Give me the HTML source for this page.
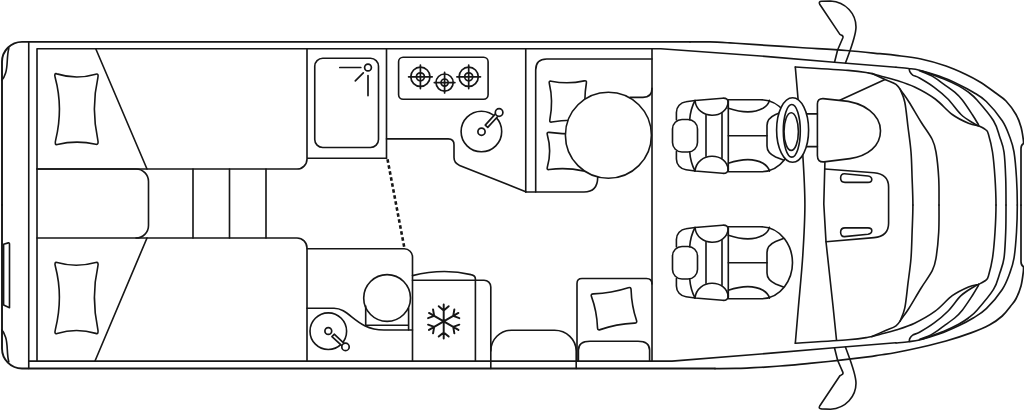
<!DOCTYPE html>
<html><head><meta charset="utf-8"><title>Floor plan</title>
<style>
html,body{margin:0;padding:0;background:#fff;}
body{width:1024px;height:410px;overflow:hidden;font-family:"Liberation Sans",sans-serif;}
svg{display:block;}
svg *{vector-effect:none;}
</style></head><body>
<svg width="1024" height="410" viewBox="0 0 1024 410" fill="none" stroke="#161616" stroke-width="1.62" stroke-linecap="round" stroke-linejoin="round">
<rect x="0" y="0" width="1024" height="410" fill="#fff" stroke="none"/>

<!-- body outline -->
<path d="M2,205 V62 A20,20 0 0 1 22,41.85 H690" stroke-width="1.9"/>
<path d="M2,205 V348.5 A20,20 0 0 0 22,368.55 H715" stroke-width="1.9"/>
<path d="M8.8,48.4 C6.6,56 8,66 5.6,73 Q4,78 1.8,80.3"/>
<path d="M8.8,361.8 C6.6,354.2 8,344.2 5.6,337.2 Q4,332.2 1.8,329.9"/>
<path d="M3.6,305 V244.2 L8.3,242.9 Q9.5,242.6 9.5,244 V307.8 L3.6,305"/>
<path d="M28.75,41.75 V368.5"/>
<path d="M37,361 V48.75 H660.75 L768,56.6 L834.25,62.25 L896,67.25"/>
<path d="M28.75,361.15 H672 L768,353.4 L834.25,347.75 L896,342.75"/>


<path d="M37,169 H297 A10,10 0 0 0 307,159"/>
<path d="M307,48.75 V158.25 H386.5"/>
<path d="M95.75,48.75 L147,169"/>
<path d="M37,238 H297 A10,10 0 0 1 307,248 V361"/>
<path d="M147,238 L95,361"/>
<path d="M37,169 H136 A12.5,12.5 0 0 1 148.5,181.5 V225.5 A12.5,12.5 0 0 1 136,238"/>
<path d="M193,169 V238 M229.5,169 V238 M266,169 V238"/>
<!-- pillows -->

<path d="M56.91,73.87 Q76.05,79.96 95.78,74.21 Q99.00,73.20 97.80,78.08 Q91.00,108.14 97.80,139.83 Q99.00,145.00 95.79,144.22 Q76.08,139.81 57.34,144.56 Q54.30,145.40 55.66,140.17 Q63.40,108.14 55.23,77.74 Q53.80,72.80 56.91,73.87 Z"/>
<path d="M57.08,262.56 Q76.07,268.04 95.78,262.56 Q99.00,261.60 97.80,266.57 Q91.00,297.13 97.80,329.17 Q99.00,334.40 95.78,333.39 Q76.07,327.63 57.08,333.56 Q54.00,334.60 55.41,329.35 Q63.39,297.14 55.41,266.57 Q54.00,261.60 57.08,262.56 Z"/>

<path d="M386.5,48.75 V158.25"/>
<rect x="314.75" y="58.25" width="63.75" height="89.25" rx="8" ry="8"/>
<circle cx="368" cy="67.5" r="3.4" stroke-width="1.7"/>
<path d="M339.8,67.5 H360.8 M355.3,80.8 L363.3,72.8 M368,75.6 V95.6" stroke-width="1.7"/>

<rect x="398.6" y="57.2" width="89.5" height="42.1" rx="4.5" ry="4.5"/>
<g stroke-width="1.7"><circle cx="420.4" cy="76.8" r="9.6"/><circle cx="420.4" cy="76.8" r="4"/><path d="M408.59999999999997,76.8 H432.2 M420.4,65.0 V88.6"/></g>
<g stroke-width="1.7"><circle cx="444.6" cy="82.6" r="8.6"/><circle cx="444.6" cy="82.6" r="3.6"/><path d="M434.3,82.6 H454.90000000000003 M444.6,72.3 V92.89999999999999"/></g>
<g stroke-width="1.7"><circle cx="468.7" cy="76.8" r="9.6"/><circle cx="468.7" cy="76.8" r="4"/><path d="M456.9,76.8 H480.5 M468.7,65.0 V88.6"/></g>

<circle cx="481.4" cy="131.5" r="20.3"/>
<circle cx="481.5" cy="131.7" r="3.6" stroke-width="1.7"/>
<path d="M497.95,116.25 L487.75,127.35 L485.25,125.05 L495.45,113.95" fill="#fff" stroke-width="1.7"/>
<circle cx="499.1" cy="112.5" r="3.8" fill="#fff" stroke-width="1.7"/>
<path d="M386.5,138.9 H448.2 Q454,138.9 454,144.8 V157.6 Q454,163.2 459.6,165.4 L525.75,191.7"/>
<path d="M525.75,48.75 V192"/>
<path d="M387.5,159.3 L404.4,248" stroke-width="2.6" stroke-dasharray="3.6 2.5" stroke-linecap="butt"/>


<path d="M307,248.8 H404.3 A8.2,8.2 0 0 1 412.5,257 V361"/>
<circle cx="387.1" cy="298" r="23.4"/>
<path d="M365.7,306 V325.2 H408.6 M408.6,308 V330"/>
<path d="M307,308.2 H334 C350,308.2 356,330 384,330 H412.5"/>
<circle cx="328.3" cy="331.2" r="18.3"/>
<circle cx="328.3" cy="331" r="3.4" stroke-width="1.7"/>
<path d="M344.05,343.31 L334.2,334.21 L331.96,336.63 L341.81,345.73" fill="#fff" stroke-width="1.7"/>
<circle cx="345.5" cy="346.9" r="3.7" fill="#fff" stroke-width="1.7"/>

<path d="M443.70,321.40 L443.70,304.40 M443.70,310.40 L448.68,306.22 M443.70,310.40 L438.72,306.22 M443.70,321.40 L428.98,312.90 M434.17,315.90 L433.05,309.50 M434.17,315.90 L428.07,318.12 M443.70,321.40 L428.98,329.90 M434.17,326.90 L428.07,324.68 M434.17,326.90 L433.05,333.30 M443.70,321.40 L443.70,338.40 M443.70,332.40 L438.72,336.58 M443.70,332.40 L448.68,336.58 M443.70,321.40 L458.42,329.90 M453.23,326.90 L454.35,333.30 M453.23,326.90 L459.33,324.68 M443.70,321.40 L458.42,312.90 M453.23,315.90 L459.33,318.12 M453.23,315.90 L454.35,309.50" stroke-width="1.95"/>

<path d="M412.5,275.6 Q443,268 471,274.6 Q475.4,275.4 475.4,279 V361"/>
<path d="M412.5,280.2 H484 A6.8,6.8 0 0 1 490.8,287 V368.5"/>


<path d="M652,48.75 V361"/>
<path d="M652,59 H546.7 Q535.7,59 535.7,70 V192"/>
<path d="M525.75,192 H584 Q597.5,192 597.7,177.5"/>
<path d="M630,97.4 H643 Q652,97.4 652,88.3"/>
<path d="M551.27,81.20 Q567.71,84.58 584.21,80.85 Q586.90,80.20 586.39,82.98 Q583.48,100.11 586.05,118.50 Q586.50,121.50 583.91,121.11 Q567.98,118.96 551.83,122.06 Q549.20,122.60 549.85,119.58 Q553.51,101.08 549.33,83.46 Q548.60,80.60 551.27,81.20 Z"/>
<path d="M549.23,132.37 Q565.97,134.55 582.34,133.92 Q585.00,133.80 584.61,136.35 Q582.46,152.08 585.47,168.78 Q586.00,171.50 583.20,170.85 Q566.03,167.14 549.23,169.56 Q546.50,170.00 547.32,167.34 Q551.98,151.00 547.32,134.66 Q546.50,132.00 549.23,132.37 Z"/>
<circle cx="608.4" cy="135.2" r="43" fill="#fff"/>


<path d="M490.8,351 A20.7,20.8 0 0 1 511.5,330.2 H554.5 A21.7,20.8 0 0 1 576.2,351 V368.5"/>
<path d="M577,361 V283.5 Q577,278.5 582,278.5 H646.5 Q652,278.5 652,284"/>
<path d="M578.4,361 V350 Q578.4,341.2 590,341.2 H638 Q649.6,341.2 649.6,350 V361"/>

<path d="M593.43,293.91 Q611.40,293.18 628.26,287.72 Q631.00,286.80 631.06,289.48 Q631.59,305.86 636.56,320.61 Q637.40,323.00 634.42,323.09 Q616.20,323.84 600.19,329.63 Q597.60,330.60 597.53,327.87 Q596.88,311.17 591.42,296.39 Q590.50,294.00 593.43,293.91 Z"/>
<g transform="translate(0,0)">
<path d="M676.4,120 V112.4 A10.6,10.6 0 0 1 686,101.8 L695,100.5 L722.5,98.2 Q728.3,97.8 728.3,103"/>
<path d="M676.4,151.5 V159.1 A10.6,10.6 0 0 0 686,169.7 L695,171 L722.5,173.3 Q728.3,173.7 728.3,168.5"/>
<rect x="672.5" y="119.5" width="25" height="32.5" rx="9.5" ry="9.5"/>
<path d="M695,100.5 Q690.5,109 689.7,119.6 M695,171 Q690.5,162.5 689.7,151.9"/>
<path d="M695,100.5 C697,120 727,120 728.3,101.5"/>
<path d="M695,171 C697,151.5 727,151.5 728.3,170"/>
<path d="M706,115.3 V156.2 M722,113.2 V158.3 M728.3,101 V170.5"/>
<path d="M728.3,99.7 H760 C782,99.7 792.5,120 792.5,135.75 C792.5,151.5 782,171.8 760,171.8 H728.3"/>
<path d="M728.3,108.3 Q750,115.5 763,108.3 Q768.5,105 769.4,100.4"/>
<path d="M728.3,163.2 Q750,156 763,163.2 Q768.5,166.5 769.4,171.1"/>
<path d="M783.4,111.4 L775.6,114.6 Q767,118.5 767,125.5 V146 Q767,153 775.6,156.9 L783.4,160.1"/>
<path d="M728.3,135.75 H767"/>
</g>
<g transform="translate(0,127)">
<path d="M676.4,120 V112.4 A10.6,10.6 0 0 1 686,101.8 L695,100.5 L722.5,98.2 Q728.3,97.8 728.3,103"/>
<path d="M676.4,151.5 V159.1 A10.6,10.6 0 0 0 686,169.7 L695,171 L722.5,173.3 Q728.3,173.7 728.3,168.5"/>
<rect x="672.5" y="119.5" width="25" height="32.5" rx="9.5" ry="9.5"/>
<path d="M695,100.5 Q690.5,109 689.7,119.6 M695,171 Q690.5,162.5 689.7,151.9"/>
<path d="M695,100.5 C697,120 727,120 728.3,101.5"/>
<path d="M695,171 C697,151.5 727,151.5 728.3,170"/>
<path d="M706,115.3 V156.2 M722,113.2 V158.3 M728.3,101 V170.5"/>
<path d="M728.3,99.7 H760 C782,99.7 792.5,120 792.5,135.75 C792.5,151.5 782,171.8 760,171.8 H728.3"/>
<path d="M728.3,108.3 Q750,115.5 763,108.3 Q768.5,105 769.4,100.4"/>
<path d="M728.3,163.2 Q750,156 763,163.2 Q768.5,166.5 769.4,171.1"/>
<path d="M783.4,111.4 L775.6,114.6 Q767,118.5 767,125.5 V146 Q767,153 775.6,156.9 L783.4,160.1"/>
<path d="M728.3,135.75 H767"/>
</g>
<path d="M690.00,41.85 C693.33,41.86 703.33,41.73 710.00,41.90 C716.67,42.07 722.92,42.48 730.00,42.90 C737.08,43.32 740.93,43.63 752.50,44.40 C764.07,45.17 783.77,46.48 799.40,47.50 C815.02,48.52 832.82,49.47 846.25,50.50 C859.68,51.53 871.71,52.88 880.00,53.70 C888.29,54.52 889.17,54.52 896.00,55.40 C902.83,56.28 912.67,57.23 921.00,59.00 C929.33,60.77 938.67,63.50 946.00,66.00 C953.33,68.50 959.33,71.33 965.00,74.00 C970.67,76.67 975.00,78.92 980.00,82.00 C985.00,85.08 990.67,89.33 995.00,92.50 C999.33,95.67 1002.50,97.33 1006.00,101.00 C1009.50,104.67 1013.50,110.17 1016.00,114.50 C1018.50,118.83 1019.78,122.83 1021.00,127.00 C1022.22,131.17 1022.88,136.75 1023.30,139.50 C1023.72,142.25 1023.47,142.83 1023.50,143.50 Q1021,145 1021,148.5 V205.1" stroke-width="1.7"/>
<path d="M715.00,368.55 C718.50,368.53 730.17,368.56 736.00,368.45 C741.83,368.34 745.17,368.12 750.00,367.90 C754.83,367.67 760.00,367.42 765.00,367.10 C770.00,366.78 775.00,366.38 780.00,366.00 C785.00,365.62 790.12,365.23 795.00,364.80 C799.88,364.37 802.03,364.13 809.30,363.40 C816.57,362.67 828.83,361.48 838.60,360.40 C848.37,359.32 861.00,357.80 867.90,356.90 C874.80,356.00 875.32,355.73 880.00,355.00 C884.68,354.27 889.17,353.79 896.00,352.50 C902.83,351.21 912.67,349.17 921.00,347.25 C929.33,345.33 937.67,343.39 946.00,341.00 C954.33,338.61 963.71,335.61 971.00,332.90 C978.29,330.19 984.54,327.57 989.75,324.75 C994.96,321.93 998.76,319.12 1002.25,316.00 C1005.74,312.88 1008.41,308.88 1010.70,306.00 C1012.99,303.12 1014.28,302.08 1016.00,298.75 C1017.72,295.42 1019.78,290.46 1021.00,286.00 C1022.22,281.54 1022.88,275.22 1023.30,272.00 C1023.72,268.78 1023.47,267.58 1023.50,266.70 Q1021,265.2 1021,261.7 V205.1" stroke-width="1.7"/>
<g id="cabhalf"><path d="M896.00,67.25 C898.08,67.46 904.58,68.00 908.50,68.50 C912.42,69.00 914.42,68.98 919.50,70.25 C924.58,71.52 932.48,73.74 939.00,76.10 C945.52,78.46 952.90,81.72 958.60,84.40 C964.30,87.08 968.58,89.35 973.20,92.20 C977.82,95.05 981.46,96.74 986.30,101.50 C991.14,106.26 998.34,114.83 1002.25,120.75 C1006.16,126.67 1007.79,131.79 1009.75,137.00 C1011.71,142.21 1012.88,145.17 1014.00,152.00 C1015.12,158.83 1015.95,169.15 1016.50,178.00 C1017.05,186.85 1017.30,196.07 1017.30,205.10"/><path d="M922.00,71.00 C925.67,72.33 937.90,76.52 944.00,79.00 C950.10,81.48 954.53,83.70 958.60,85.90 C962.67,88.10 965.33,89.85 968.40,92.20 C971.47,94.55 972.82,95.24 977.00,100.00 C981.18,104.76 989.71,114.58 993.50,120.75 C997.29,126.92 998.00,131.79 999.75,137.00 C1001.50,142.21 1003.01,145.17 1004.00,152.00 C1004.99,158.83 1005.37,169.15 1005.70,178.00 C1006.03,186.85 1006.00,196.07 1006.00,205.10"/><path d="M978.50,125.75 C979.75,126.46 984.33,128.54 986.00,130.00 C987.67,131.46 987.42,130.83 988.50,134.50 C989.58,138.17 991.42,144.75 992.50,152.00 C993.58,159.25 994.42,169.15 995.00,178.00 C995.58,186.85 996.00,196.07 996.00,205.10"/><path d="M872.00,73.60 C874.17,74.58 881.00,77.72 885.00,79.50 C889.00,81.28 893.17,82.22 896.00,84.30 C898.83,86.38 899.83,89.05 902.00,92.00 C904.17,94.95 905.83,97.00 909.00,102.00 C912.17,107.00 917.12,115.75 921.00,122.00 C924.88,128.25 929.75,134.50 932.25,139.50 C934.75,144.50 934.92,145.58 936.00,152.00 C937.08,158.42 938.20,169.15 938.70,178.00 C939.20,186.85 939.00,196.07 939.00,205.10"/><path d="M900.00,89.00 C900.79,91.17 903.42,95.67 904.75,102.00 C906.08,108.33 906.96,118.67 908.00,127.00 C909.04,135.33 910.32,143.50 911.00,152.00 C911.68,160.50 911.78,169.15 912.10,178.00 C912.42,186.85 912.90,196.07 912.90,205.10"/><path d="M795.30,67.00 C804.08,67.57 835.88,69.42 848.00,70.40 C860.12,71.38 862.58,71.97 868.00,72.90 C873.42,73.83 875.83,74.78 880.50,76.00 C885.17,77.22 890.32,78.37 896.00,80.20 C901.68,82.03 908.07,83.87 914.60,87.00 C921.13,90.13 928.93,94.42 935.20,99.00 C941.48,103.58 946.70,110.46 952.25,114.50 C957.80,118.54 964.12,121.38 968.50,123.25 C972.88,125.12 976.83,125.33 978.50,125.75"/><path d="M909.30,68.80 C909.38,69.28 909.23,70.65 909.80,71.70 C910.37,72.75 911.08,74.05 912.70,75.10 C914.32,76.15 915.92,75.97 919.50,78.00 C923.08,80.03 929.47,83.80 934.20,87.30 C938.93,90.80 943.43,94.47 947.90,99.00 C952.37,103.53 956.73,110.46 961.00,114.50 C965.27,118.54 970.58,121.38 973.50,123.25 C976.42,125.12 977.67,125.33 978.50,125.75"/><path d="M919.50,70.70 C921.62,71.60 928.12,73.82 932.20,76.10 C936.28,78.38 940.25,81.72 944.00,84.40 C947.75,87.08 951.65,89.60 954.70,92.20 C957.75,94.80 959.38,96.28 962.30,100.00 C965.22,103.72 969.55,110.37 972.25,114.50 C974.95,118.63 977.46,123.08 978.50,124.80"/></g>
<g transform="translate(0,410.2) scale(1,-1)"><path d="M896.00,67.25 C898.08,67.46 904.58,68.00 908.50,68.50 C912.42,69.00 914.42,68.98 919.50,70.25 C924.58,71.52 932.48,73.74 939.00,76.10 C945.52,78.46 952.90,81.72 958.60,84.40 C964.30,87.08 968.58,89.35 973.20,92.20 C977.82,95.05 981.46,96.74 986.30,101.50 C991.14,106.26 998.34,114.83 1002.25,120.75 C1006.16,126.67 1007.79,131.79 1009.75,137.00 C1011.71,142.21 1012.88,145.17 1014.00,152.00 C1015.12,158.83 1015.95,169.15 1016.50,178.00 C1017.05,186.85 1017.30,196.07 1017.30,205.10"/><path d="M922.00,71.00 C925.67,72.33 937.90,76.52 944.00,79.00 C950.10,81.48 954.53,83.70 958.60,85.90 C962.67,88.10 965.33,89.85 968.40,92.20 C971.47,94.55 972.82,95.24 977.00,100.00 C981.18,104.76 989.71,114.58 993.50,120.75 C997.29,126.92 998.00,131.79 999.75,137.00 C1001.50,142.21 1003.01,145.17 1004.00,152.00 C1004.99,158.83 1005.37,169.15 1005.70,178.00 C1006.03,186.85 1006.00,196.07 1006.00,205.10"/><path d="M978.50,125.75 C979.75,126.46 984.33,128.54 986.00,130.00 C987.67,131.46 987.42,130.83 988.50,134.50 C989.58,138.17 991.42,144.75 992.50,152.00 C993.58,159.25 994.42,169.15 995.00,178.00 C995.58,186.85 996.00,196.07 996.00,205.10"/><path d="M872.00,73.60 C874.17,74.58 881.00,77.72 885.00,79.50 C889.00,81.28 893.17,82.22 896.00,84.30 C898.83,86.38 899.83,89.05 902.00,92.00 C904.17,94.95 905.83,97.00 909.00,102.00 C912.17,107.00 917.12,115.75 921.00,122.00 C924.88,128.25 929.75,134.50 932.25,139.50 C934.75,144.50 934.92,145.58 936.00,152.00 C937.08,158.42 938.20,169.15 938.70,178.00 C939.20,186.85 939.00,196.07 939.00,205.10"/><path d="M900.00,89.00 C900.79,91.17 903.42,95.67 904.75,102.00 C906.08,108.33 906.96,118.67 908.00,127.00 C909.04,135.33 910.32,143.50 911.00,152.00 C911.68,160.50 911.78,169.15 912.10,178.00 C912.42,186.85 912.90,196.07 912.90,205.10"/><path d="M795.30,67.00 C804.08,67.57 835.88,69.42 848.00,70.40 C860.12,71.38 862.58,71.97 868.00,72.90 C873.42,73.83 875.83,74.78 880.50,76.00 C885.17,77.22 890.32,78.37 896.00,80.20 C901.68,82.03 908.07,83.87 914.60,87.00 C921.13,90.13 928.93,94.42 935.20,99.00 C941.48,103.58 946.70,110.46 952.25,114.50 C957.80,118.54 964.12,121.38 968.50,123.25 C972.88,125.12 976.83,125.33 978.50,125.75"/><path d="M909.30,68.80 C909.38,69.28 909.23,70.65 909.80,71.70 C910.37,72.75 911.08,74.05 912.70,75.10 C914.32,76.15 915.92,75.97 919.50,78.00 C923.08,80.03 929.47,83.80 934.20,87.30 C938.93,90.80 943.43,94.47 947.90,99.00 C952.37,103.53 956.73,110.46 961.00,114.50 C965.27,118.54 970.58,121.38 973.50,123.25 C976.42,125.12 977.67,125.33 978.50,125.75"/><path d="M919.50,70.70 C921.62,71.60 928.12,73.82 932.20,76.10 C936.28,78.38 940.25,81.72 944.00,84.40 C947.75,87.08 951.65,89.60 954.70,92.20 C957.75,94.80 959.38,96.28 962.30,100.00 C965.22,103.72 969.55,110.37 972.25,114.50 C974.95,118.63 977.46,123.08 978.50,124.80"/></g>
<path d="M834.6,62 L837.6,50 L842.9,37.8 Q843.5,35.8 841.2,35.1 L839.9,34.4 L819.7,4.2 Q818.3,1.5 821.5,1.3 L830.5,1 C846,2 856,14 856,27 C856,36 851,48 845.5,62.9"/>
<g transform="translate(0,410.2) scale(1,-1)"><path d="M834.6,62 L837.6,50 L842.9,37.8 Q843.5,35.8 841.2,35.1 L839.9,34.4 L819.7,4.2 Q818.3,1.5 821.5,1.3 L830.5,1 C846,2 856,14 856,27 C856,36 851,48 845.5,62.9"/></g>

<path d="M795.30,67.00 C795.80,72.83 797.05,87.33 798.30,102.00 C799.55,116.67 801.70,137.82 802.80,155.00 C803.90,172.18 804.90,188.40 804.90,205.10 C804.90,221.80 803.90,238.02 802.80,255.20 C801.70,272.38 799.55,293.53 798.30,308.20 C797.05,322.87 795.80,337.37 795.30,343.20"/>
<path d="M824.9,162.4 L823.8,204 L826,241.75 L833,306 L836.5,340"/>
<path d="M839.25,100.4 L885,79.5"/>
<!-- panel -->
<path d="M824.9,169 L874,172.8 Q888.6,174 888.6,187 V223.2 Q888.6,236.2 874,237.6 L826,241.75"/>
<path d="M844.5,173.8 L868,176 Q871.8,176.6 871.8,179.5 Q871.8,182.4 868,182.4 H845 Q840.6,182.4 840.6,178 Q840.8,173.6 844.5,173.8 Z" stroke-width="1.6"/>
<path d="M844.5,236.6 L868,234.2 Q871.8,233.6 871.8,230.7 Q871.8,227.9 868,227.9 H845 Q840.6,227.9 840.6,232.3 Q840.8,236.8 844.5,236.6 Z" stroke-width="1.6"/>
<!-- cluster hood -->
<path d="M817.4,104 Q817.4,98.5 823,98.6 L839.25,100.4 C865,102 880.5,115 880.5,130.75 C880.5,146 868,156 850,158.6 L824,161.9 Q817.4,162.4 817.4,155.5 Z" fill="#fff"/>
<path d="M806,113.9 H817.4 M806,146.6 H817.4"/>
<!-- steering wheel -->
<ellipse cx="792.6" cy="130" rx="16" ry="32.2" fill="#fff"/>
<ellipse cx="791.8" cy="130.8" rx="8.5" ry="26.3"/>
<ellipse cx="791.2" cy="131.6" rx="7.2" ry="18.8"/>

</svg>
</body></html>
